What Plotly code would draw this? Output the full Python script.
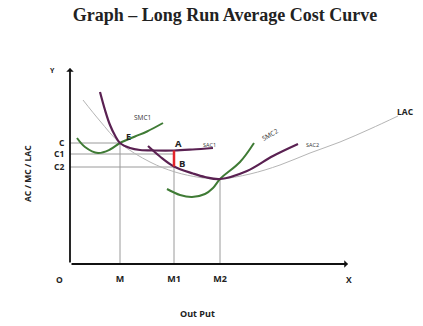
import plotly.graph_objects as go

# ---- data (output units on x, cost units on y) ----
output_ticks = [10, 20.8, 30]
output_labels = ["M", "M1", "M2"]
cost_ticks = [24.2, 22.0, 19.4]
cost_labels = ["C", "C1", "C2"]

sac1_x = [6, 7, 8, 9, 10, 12, 14, 17, 20.8, 24.5, 28.6]
sac1_y = [34.4, 30.8, 27.8, 25.7, 24.2, 23.2, 22.8, 22.7, 22.7, 22.9, 23.2]

smc1_x = [1.4, 3, 5.6, 8, 10, 13, 15.4, 18.6]
smc1_y = [25.2, 23.4, 22.2, 22.9, 24.2, 25.5, 26.5, 28.2]

sac2_x = [15.6, 18, 20.8, 24.6, 27, 30, 35.4, 40.6, 45.6]
sac2_y = [23.6, 21.5, 19.5, 18.1, 17.4, 17.0, 18.6, 21.6, 24.0]

smc2_x = [19.4, 22, 24.4, 27, 28.6, 30, 34, 36.8]
smc2_y = [15.0, 13.8, 13.4, 14.0, 15.2, 17.0, 20.4, 24.2]

lac_x = [2.6, 6, 10, 16, 21, 26, 30, 36, 42, 48, 54, 60, 65.6]
lac_y = [32.8, 28.6, 24.2, 20.4, 18.4, 17.3, 17.0, 18.0, 19.8, 22.2, 24.4, 27.0, 29.6]

point_e = (10, 24.2)
point_a = (20.8, 22.7)
point_b = (20.8, 19.5)
m2_point = (30, 17.0)
x_axis_end = 55.6
y_axis_end = 39.2

PURPLE = "#5a2152"
GREEN = "#3f7b35"
GUIDE = "#9a9a9a"
TXT = "#222222"
SANS = "Open Sans"

fig = go.Figure()

def guide(xs, ys, color=GUIDE, width=1):
    fig.add_trace(go.Scatter(x=xs, y=ys, mode="lines",
                             line=dict(color=color, width=width),
                             hoverinfo="skip", showlegend=False))

# guide lines
guide([0, point_e[0]], [cost_ticks[0], cost_ticks[0]])
guide([0, output_ticks[1]], [cost_ticks[1], cost_ticks[1]])
guide([0, output_ticks[1]], [cost_ticks[2], cost_ticks[2]])
guide([output_ticks[0], output_ticks[0]], [0, point_e[1]])
guide([output_ticks[1], output_ticks[1]], [0, point_a[1]])
guide([output_ticks[2], output_ticks[2]], [0, m2_point[1]])

def curve(xs, ys, color, width):
    fig.add_trace(go.Scatter(x=xs, y=ys, mode="lines",
                             line=dict(color=color, width=width, shape="spline", smoothing=1.0),
                             hoverinfo="skip", showlegend=False))

curve(lac_x, lac_y, "#b5b5b5", 1)
curve(smc1_x, smc1_y, GREEN, 2)
curve(smc2_x, smc2_y, GREEN, 2)
curve(sac1_x, sac1_y, PURPLE, 2.2)
curve(sac2_x, sac2_y, PURPLE, 2.2)

# red A-B segment
guide([point_a[0], point_b[0]], [point_a[1], point_b[1]], color="#e3242b", width=2.5)

W, H = 423, 326
L, R, T, B = 70, 0, 40, 62
pw, ph = W - L - R, H - T - B
scale = 5.0

fig.update_layout(
    width=W, height=H,
    margin=dict(l=L, r=R, t=T, b=B, pad=0),
    paper_bgcolor="white", plot_bgcolor="white",
    xaxis=dict(range=[0, pw / scale], showgrid=False, zeroline=False, showline=False,
               tickmode="array", tickvals=output_ticks,
               ticktext=["<b>%s</b>" % t for t in output_labels],
               ticks="outside", ticklen=6, tickcolor="rgba(0,0,0,0)",
               tickfont=dict(family=SANS, size=9, color=TXT)),
    yaxis=dict(range=[0, ph / scale], showgrid=False, zeroline=False, showline=False,
               tickmode="array", tickvals=cost_ticks,
               ticktext=["<b>%s</b>" % t for t in cost_labels],
               ticks="outside", ticklen=3, tickcolor="rgba(0,0,0,0)",
               tickfont=dict(family=SANS, size=8.5, color=TXT)),
    title=dict(text="<b>Graph – Long Run Average Cost Curve</b>",
               font=dict(family="Liberation Serif", size=18, color=TXT),
               xref="paper", x=(225 - L) / pw, xanchor="center",
               yref="container", y=1 - 15 / H, yanchor="middle"),
    showlegend=False,
)

ann = []
# axes with arrows
ann.append(dict(x=x_axis_end, y=0, ax=0, ay=0, xref="x", yref="y", axref="x", ayref="y",
                showarrow=True, arrowhead=1, arrowsize=0.7, arrowwidth=1.8, arrowcolor="#111", text=""))
ann.append(dict(x=0, y=y_axis_end, ax=0, ay=0, xref="x", yref="y", axref="x", ayref="y",
                showarrow=True, arrowhead=1, arrowsize=0.7, arrowwidth=1.8, arrowcolor="#111", text=""))

def lab(text, x, y, size=8, bold=False, color=TXT, angle=0, ref="data"):
    t = "<b>%s</b>" % text if bold else text
    d = dict(text=t, x=x, y=y, showarrow=False, textangle=angle,
             font=dict(family=SANS, size=size, color=color),
             xanchor="center", yanchor="middle")
    if ref == "data":
        d.update(xref="x", yref="y")
    else:
        d.update(xref="paper", yref="paper")
    ann.append(d)

def px_to_paper(px, py):
    return (px - L) / pw, (H - B - py) / ph

# curve labels
lab("SMC1", 14.4, 29.4, size=6.5, color="#333")
lab("SAC1", 27.8, 23.8, size=5.5, color="#333")
lab("SMC2", 40.0, 26.0, size=6.5, color="#333", angle=-30)
lab("SAC2", 48.4, 23.8, size=5.5, color="#333")
lab("LAC", 67.0, 30.6, size=8.5, bold=True, color="#222")
lab("E", 11.6, 25.6, size=9, bold=True)
lab("A", 21.6, 24.2, size=9.5, bold=True)
lab("B", 22.4, 20.2, size=9.5, bold=True)

# axis labels outside the plot
for text, px, py, size, ang in [("O", 59, 279, 8.5, 0), ("X", 349, 279, 8.5, 0), ("Y", 52, 71, 7, 0),
                                ("Out Put", 197, 313, 9, 0), ("AC / MC / LAC", 27, 174, 8.5, -90)]:
    xp, yp = px_to_paper(px, py)
    lab(text, xp, yp, size=size, bold=True, angle=ang, ref="paper")

fig.update_layout(annotations=ann)
fig.write_html("out.html")
